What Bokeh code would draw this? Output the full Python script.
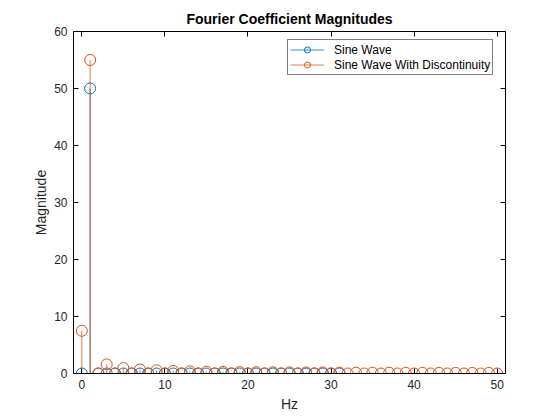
from bokeh.plotting import figure
from bokeh.models import LinearAxis, Legend, LegendItem, FixedTicker, Range1d
from bokeh.embed import file_html
from bokeh.resources import INLINE

# Data
sine_hz = list(range(0, 32))
sine_mag = [0, 50] + [0] * 30

disc_hz = list(range(0, 51))
disc_mag = [7.5, 55, 0, 1.6, 0, 0.95, 0, 0.7, 0, 0.55, 0, 0.45, 0, 0.37, 0, 0.32,
            0, 0.28, 0, 0.25, 0, 0.23, 0, 0.21, 0, 0.19, 0, 0.18, 0, 0.17, 0, 0.15,
            0, 0.15, 0, 0.14, 0, 0.13, 0, 0.12, 0, 0.12, 0, 0.11, 0, 0.11, 0, 0.10,
            0, 0.10, 0]

x_ticks = [0, 10, 20, 30, 40, 50]
y_ticks = [0, 10, 20, 30, 40, 50, 60]

BLUE = "#0072BD"
ORANGE = "#D95319"
FONT = "Liberation Sans"

p = figure(width=552, height=416, output_backend="svg", toolbar_location=None,
           x_range=Range1d(-1, 51), y_range=Range1d(0, 60),
           min_border_left=73, min_border_right=47, min_border_top=31, min_border_bottom=43)

p.title.text = "Fourier Coefficient Magnitudes"
p.title.align = "center"
p.title.text_font = FONT
p.title.text_font_size = "14px"
p.title.text_font_style = "bold"
p.title.text_color = "black"
p.title.offset = 0

p.grid.visible = False
p.outline_line_color = "black"
p.outline_line_width = 1
p.background_fill_color = "white"
p.border_fill_color = "white"

for ax, t in ((p.xaxis[0], x_ticks), (p.yaxis[0], y_ticks)):
    ax.ticker = FixedTicker(ticks=t)
    ax.major_tick_in = 5
    ax.major_tick_out = 0
    ax.minor_tick_line_color = None
    ax.axis_line_color = "black"
    ax.major_tick_line_color = "black"
    ax.major_label_text_font = FONT
    ax.major_label_text_font_size = "12px"
    ax.major_label_text_color = "#262626"
    ax.axis_label_text_font = FONT
    ax.axis_label_text_font_size = "14px"
    ax.axis_label_text_font_style = "normal"
    ax.axis_label_text_color = "#262626"

p.xaxis[0].axis_label = "Hz"
p.yaxis[0].axis_label = "Magnitude"
p.xaxis[0].axis_label_standoff = 4
p.yaxis[0].axis_label_standoff = 2
p.xaxis[0].major_label_standoff = 6
p.yaxis[0].major_label_standoff = 6

top_ax = LinearAxis(ticker=FixedTicker(ticks=x_ticks), major_tick_in=5, major_tick_out=0,
                    major_label_overrides={t: "" for t in x_ticks}, minor_tick_line_color=None,
                    major_label_standoff=0)
right_ax = LinearAxis(ticker=FixedTicker(ticks=y_ticks), major_tick_in=5, major_tick_out=0,
                      major_label_overrides={t: "" for t in y_ticks}, minor_tick_line_color=None,
                      major_label_standoff=0)
p.add_layout(top_ax, "above")
p.add_layout(right_ax, "right")

s1 = p.segment(x0=sine_hz, y0=[0] * len(sine_hz), x1=sine_hz, y1=sine_mag,
               line_color=BLUE, line_width=0.8)
m1 = p.scatter(x=sine_hz, y=sine_mag, marker="circle", size=11, fill_color=None,
               line_color=BLUE, line_width=1)
s2 = p.segment(x0=disc_hz, y0=[0] * len(disc_hz), x1=disc_hz, y1=disc_mag,
               line_color=ORANGE, line_width=0.8)
m2 = p.scatter(x=disc_hz, y=disc_mag, marker="circle", size=11, fill_color=None,
               line_color=ORANGE, line_width=1)

legend = Legend(items=[LegendItem(label="Sine Wave", renderers=[s1, m1]),
                       LegendItem(label="Sine Wave With Discontinuity", renderers=[s2, m2])],
                location=(214, 298))
legend.label_text_font = FONT
legend.label_text_font_size = "12px"
legend.label_text_color = "black"
legend.border_line_color = "black"
legend.border_line_width = 1
legend.padding = 2
legend.spacing = 0
legend.margin = 0
legend.glyph_width = 34
legend.glyph_height = 15
legend.label_height = 15
legend.label_standoff = 10
legend.background_fill_alpha = 1
p.add_layout(legend, "center")

open("out.html", "w").write(file_html(p, INLINE))
